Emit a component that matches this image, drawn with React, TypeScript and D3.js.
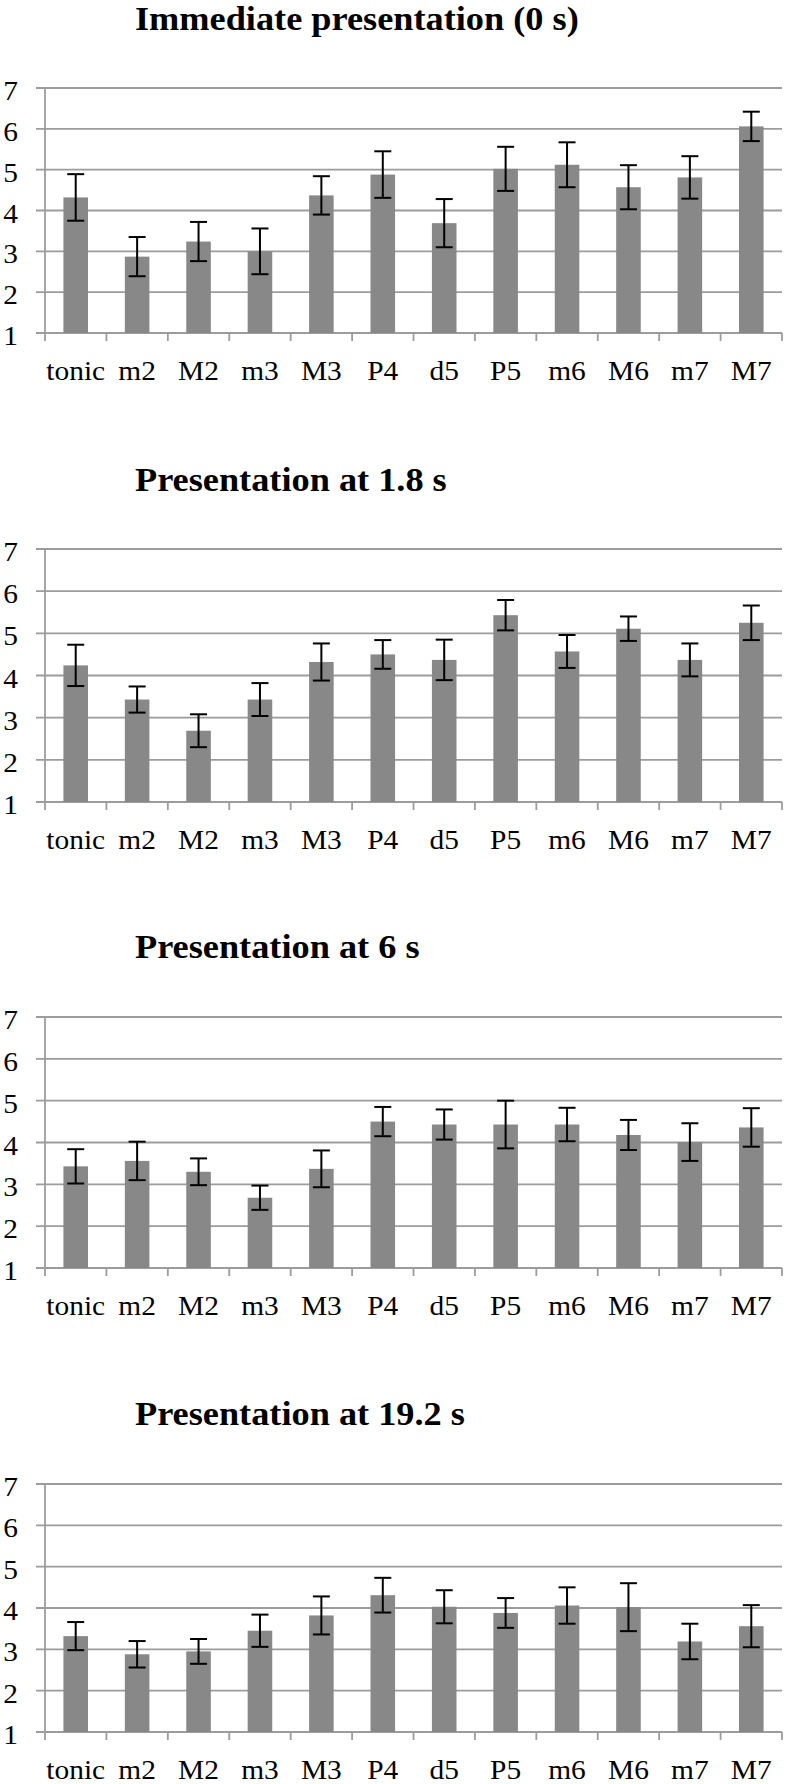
import React from "react";
import * as d3 from "d3";

const categories = ["tonic", "m2", "M2", "m3", "M3", "P4", "d5", "P5", "m6", "M6", "m7", "M7"];
const titles = [
  "Immediate presentation (0 s)",
  "Presentation at 1.8 s",
  "Presentation at 6 s",
  "Presentation at 19.2 s",
];
const yTicks = [1, 2, 3, 4, 5, 6, 7];

const means0 = [4.32, 2.87, 3.24, 3.0, 4.37, 4.88, 3.69, 5.02, 5.12, 4.57, 4.81, 6.06];
const errs0 = [0.57, 0.48, 0.48, 0.56, 0.47, 0.57, 0.59, 0.54, 0.55, 0.54, 0.52, 0.36];

const means1 = [4.24, 3.43, 2.69, 3.43, 4.32, 4.5, 4.37, 5.43, 4.57, 5.11, 4.37, 5.25];
const errs1 = [0.49, 0.31, 0.39, 0.39, 0.44, 0.34, 0.48, 0.36, 0.39, 0.29, 0.39, 0.41];

const means2 = [3.43, 3.56, 3.3, 2.68, 3.37, 4.5, 4.43, 4.43, 4.43, 4.18, 4.01, 4.36];
const errs2 = [0.41, 0.46, 0.32, 0.29, 0.44, 0.35, 0.36, 0.57, 0.4, 0.36, 0.45, 0.46];

const means3 = [3.32, 2.88, 2.95, 3.45, 3.82, 4.31, 4.03, 3.88, 4.06, 4.02, 3.19, 3.56];
const errs3 = [0.34, 0.32, 0.3, 0.39, 0.46, 0.42, 0.4, 0.36, 0.44, 0.58, 0.43, 0.51];

const seriesMeans = [means0, means1, means2, means3];
const seriesErrs = [errs0, errs1, errs2, errs3];

// layout
const W = 790;
const H = 1784;
const plotLeft = 45;
const plotRight = 782;
const panelLayout = [
  { titleY: 29.5, top: 88, bottom: 333 },
  { titleY: 491, top: 549, bottom: 802 },
  { titleY: 958, top: 1017, bottom: 1268 },
  { titleY: 1425, top: 1484, bottom: 1732 },
];

const FONT = "'Liberation Serif', 'Times New Roman', serif";
const STRETCH = 1.09;
const gridColor = "#9c9c9c";
const barColor = "#888888";

function Panel({ idx }: { idx: number }) {
  const lay = panelLayout[idx];
  const means = seriesMeans[idx];
  const errs = seriesErrs[idx];
  const x = d3.scaleBand<string>().domain(categories).range([plotLeft, plotRight]).paddingInner(0).paddingOuter(0);
  const y = d3.scaleLinear().domain([1, 7]).range([lay.bottom, lay.top]);
  const bw = x.bandwidth() * 0.4;
  const cap = 8.5;
  return (
    <g>
      <text
        transform={`translate(135,${lay.titleY}) scale(1.1,1)`}
        fontFamily={FONT}
        fontWeight="bold"
        fontSize={33}
        fill="#000"
      >
        {titles[idx]}
      </text>
      {yTicks.map((t) => (
        <g key={t}>
          <line x1={36} x2={plotRight} y1={y(t)} y2={y(t)} stroke={gridColor} strokeWidth={1.8} />
          <text
            transform={`translate(18,${y(t) + 12}) scale(${STRETCH},1)`}
            textAnchor="end"
            fontFamily={FONT}
            fontSize={27}
            fill="#000"
          >
            {t}
          </text>
        </g>
      ))}
      <line x1={plotLeft} x2={plotLeft} y1={lay.top} y2={lay.bottom} stroke={gridColor} strokeWidth={1.8} />
      {categories.map((c) => (
        <line
          key={"tk" + c}
          x1={x(c)!}
          x2={x(c)!}
          y1={lay.bottom}
          y2={lay.bottom + 8}
          stroke={gridColor}
          strokeWidth={1.8}
        />
      ))}
      <line x1={plotRight} x2={plotRight} y1={lay.bottom} y2={lay.bottom + 8} stroke={gridColor} strokeWidth={1.8} />
      {categories.map((c, i) => {
        const cx = x(c)! + x.bandwidth() / 2;
        const v = means[i];
        const e = errs[i];
        return (
          <g key={c}>
            <rect x={cx - bw / 2} y={y(v)} width={bw} height={y(1) - y(v)} fill={barColor} />
            <line x1={cx} x2={cx} y1={y(v + e)} y2={y(v - e)} stroke="#000" strokeWidth={2} />
            <line x1={cx - cap} x2={cx + cap} y1={y(v + e)} y2={y(v + e)} stroke="#000" strokeWidth={2} />
            <line x1={cx - cap} x2={cx + cap} y1={y(v - e)} y2={y(v - e)} stroke="#000" strokeWidth={2} />
            <text
              transform={`translate(${cx},${lay.bottom + 47}) scale(${STRETCH},1)`}
              textAnchor="middle"
              fontFamily={FONT}
              fontSize={27}
              fill="#000"
            >
              {c}
            </text>
          </g>
        );
      })}
    </g>
  );
}

export default function App() {
  return (
    <svg
      width={W}
      height={H}
      viewBox={`0 0 ${W} ${H}`}
      style={{ position: "absolute", left: 0, top: 0, background: "#fff" }}
    >
      <rect x={0} y={0} width={W} height={H} fill="#fff" />
      {panelLayout.map((_, i) => (
        <Panel key={i} idx={i} />
      ))}
    </svg>
  );
}
